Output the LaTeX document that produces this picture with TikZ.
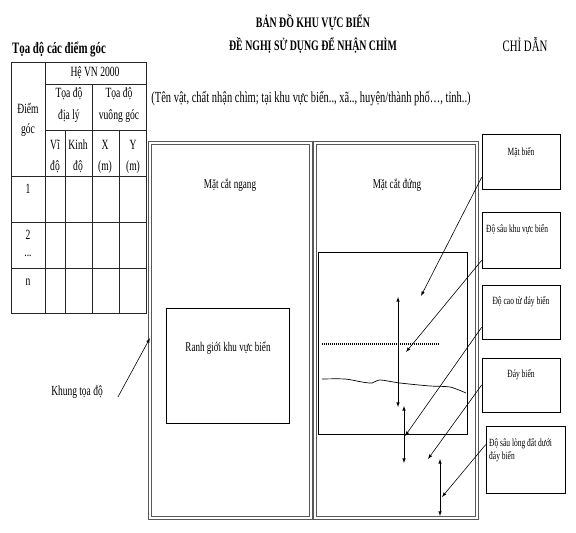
\documentclass[tikz,border=0pt]{standalone}
\usepackage{fontspec}
\setmainfont{Liberation Serif}[FakeStretch=0.68]
\usetikzlibrary{positioning,calc}

\begin{document}
\begin{tikzpicture}[x=1pt,y=-1pt,
  txt/.style={inner sep=0pt, font=\fontsize{14.1}{16}\selectfont},
  sml/.style={inner sep=0pt, font=\fontsize{11}{13.5}\selectfont},
  legbox/.style={draw, line width=0.7pt, minimum width=78pt, inner sep=0pt},
  frame/.style={draw=black!65, double, double distance=1.2pt, line width=1pt},
  grid/.style={line width=0.7pt, draw=black!85},
  ptr/.style={-latex, line width=0.6pt},
  dim/.style={latex-latex, line width=0.6pt}]
  \useasboundingbox (0,0) rectangle (576,533);

  % tieu de
  \node[txt, font=\fontsize{14.5}{16}\selectfont\bfseries] (title1) at (313,22) {BẢN ĐỒ KHU VỰC BIỂN};
  \node[txt, font=\fontsize{14.5}{16}\selectfont\bfseries] (title2) at (313,45) {ĐỀ NGHỊ SỬ DỤNG ĐỂ NHẬN CHÌM};
  \node[txt, font=\fontsize{15.9}{18}\selectfont] (chidan) at (525,45) {CHỈ DẪN};
  \node[txt, font=\fontsize{15.9}{18}\selectfont\bfseries] (tdgoc) at (59,49) {Tọa độ các điểm góc};
  \node[txt, font=\fontsize{15.4}{18}\selectfont] (subt) at (311,99) {(Tên vật, chất nhận chìm; tại khu vực biển.., xã.., huyện/thành phố…, tỉnh..)};

  % bang toa do
  \draw[grid] (11,62) rectangle (146,313);
  \draw[grid] (45,84) -- (146,84);
  \draw[grid] (45,130) -- (146,130);
  \foreach \y in {176,222,268} \draw[grid] (11,\y) -- (146,\y);
  \draw[grid] (45,62) -- (45,313);
  \draw[grid] (92,84) -- (92,313);
  \draw[grid] (65,130) -- (65,313);
  \draw[grid] (119,130) -- (119,313);
  \node[txt] (diem) at (28,108) {Điểm};
  \node[txt] (goc) at (28,130) {góc};
  \node[txt] (vn) at (95,73) {Hệ VN 2000};
  \node[txt] (dl1) at (69,94) {Tọa độ};
  \node[txt] (dl2) at (69,116) {địa lý};
  \node[txt] (vg1) at (119,94) {Tọa độ};
  \node[txt] (vg2) at (119,116) {vuông góc};
  \node[txt] (vi1) at (55,145) {Vĩ};
  \node[txt] (vi2) at (55,167) {độ};
  \node[txt] (kd1) at (78,145) {Kinh};
  \node[txt] (kd2) at (78,167) {độ};
  \node[txt] (x1) at (105,145) {X};
  \node[txt] (x2) at (105,167) {(m)};
  \node[txt] (y1) at (133,145) {Y};
  \node[txt] (y2) at (133,167) {(m)};
  \node[txt] (r1) at (28,189) {1};
  \node[txt] (r2) at (28,235) {2};
  \node[txt] (r2b) at (28,256) {...};
  \node[txt] (rn) at (28,282) {n};

  % mat cat ngang
  \draw[frame] (150,143) rectangle (311,518);
  \node[txt, font=\fontsize{13.4}{15}\selectfont] (mcn) at (230,185) {Mặt cắt ngang};
  \draw[line width=0.7pt] (166,308) rectangle (289,423);
  \node[txt, font=\fontsize{13.3}{15}\selectfont] (ranh) at (228,348) {Ranh giới khu vực biển};

  \node[txt, font=\fontsize{13.9}{15}\selectfont] (khung) at (77,392) {Khung tọa độ};
  \coordinate (kend) at (150,338);
  \draw[ptr] ([xshift=15pt,yshift=-5pt]khung.east) -- (kend);

  % mat cat dung
  \draw[frame] (315,143) rectangle (477,518);
  \node[txt, font=\fontsize{13.4}{15}\selectfont] (mcd) at (397,185) {Mặt cắt đứng};
  \draw[line width=0.7pt] (318,252) rectangle (467,434);
  \draw[line width=1.5pt, dash pattern=on 1pt off 1pt] (322,344) -- (440,344);
  \draw[line width=0.7pt] plot[smooth] coordinates {(322,379) (345,379) (362,382) (372,383) (380,380) (400,383) (430,386) (450,387) (466,393)};
  \draw[dim] (398,297) -- (398,407);
  \draw[dim] (404,406) -- (404,463);
  \draw[dim] (440,459) -- (440,516);

  % chi dan
  \node[legbox, minimum height=55pt] (lb1) at (521,161.5) {};
  \node[sml] (t1) at (521,152) {Mặt biển};
  \node[legbox, minimum height=56pt] (lb2) at (521,240) {};
  \node[sml, anchor=west] (t2) at (486,229) {Độ sâu khu vực biển};
  \node[legbox, minimum height=54pt] (lb3) at (521,312) {};
  \node[sml] (t3) at (521,302) {Độ cao từ đáy biển};
  \node[legbox, minimum height=54pt] (lb4) at (521,385) {};
  \node[sml] (t4) at (521,375) {Đáy biển};
  \node[legbox, minimum width=79pt, minimum height=67pt] (lb5) at (525.5,459.5) {};
  \node[sml, anchor=north west, align=left] (t5) at (489,438) {Độ sâu lòng đất dưới\\đáy biển};

  \coordinate (e1) at (421,296);
  \coordinate (e2) at (406,352);
  \coordinate (e3) at (405,436);
  \coordinate (e4) at (428,459);
  \coordinate (e5) at (442,497);
  \draw[ptr] ([yshift=12pt]lb1.south west) -- (e1);
  \draw[ptr] ([yshift=8pt]lb2.south west) -- (e2);
  \draw[ptr] ([yshift=12pt]lb3.south west) -- (e3);
  \draw[ptr] (lb4.west) -- (e4);
  \draw[ptr] ([yshift=-19pt]lb5.north west) -- (e5);
\end{tikzpicture}
\end{document}
